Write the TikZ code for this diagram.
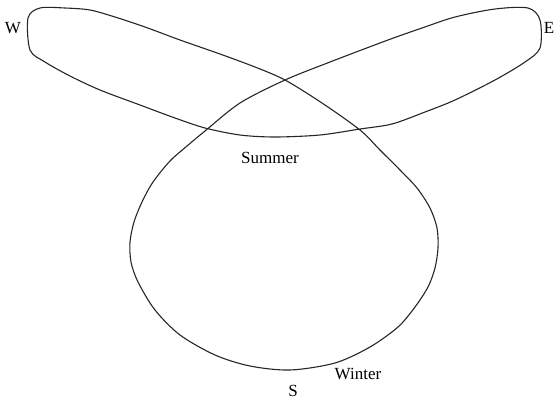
\documentclass[tikz,border=0pt]{standalone}
\usepackage{fontspec}
\setmainfont{Liberation Serif}
\begin{document}
\begin{tikzpicture}[x=1pt,y=-1pt,
  path/.style={line width=1.1pt, draw=black!85, line join=round},
  lbl/.style={font=\fontsize{17}{19}\selectfont, inner sep=0pt}]
\useasboundingbox (0,0) rectangle (555,400);
\draw[path] plot[smooth cycle, tension=0.5] coordinates {
(28,18) (40,8) (65,8) (90,10) (115,17) (145,27) (180,40) (220,54) (255,67) (285,80) (322,103) (360,130) (380,150) (400,170) (417,188) (430,208) (437,228) (438,248) (435,268) (428,287) (415,307) (398,327) (370,347) (335,363) (290,370) (250,366) (215,355) (180,335) (155,310) (138,282) (131,262) (130,242) (134,222) (142,202) (153,182) (170,161) (187,146) (205,131) (240,103) (285,80) (330,62) (388,40) (422,28) (455,17) (495,9) (528,8) (540,20) (540,48) (525,62) (495,80) (455,100) (425,112) (392,124) (360,129) (320,135) (275,137) (240,135) (205,128) (175,118) (140,105) (100,90) (70,76) (45,62) (30,50)};
\node[lbl] (w) at (13,28) {W};
\node[lbl] (e) at (549,28) {E};
\node[lbl] (summer) at (270,158) {Summer};
\node[lbl] (winter) at (358,374) {Winter};
\node[lbl] (s) at (293,391) {S};
\end{tikzpicture}
\end{document}
